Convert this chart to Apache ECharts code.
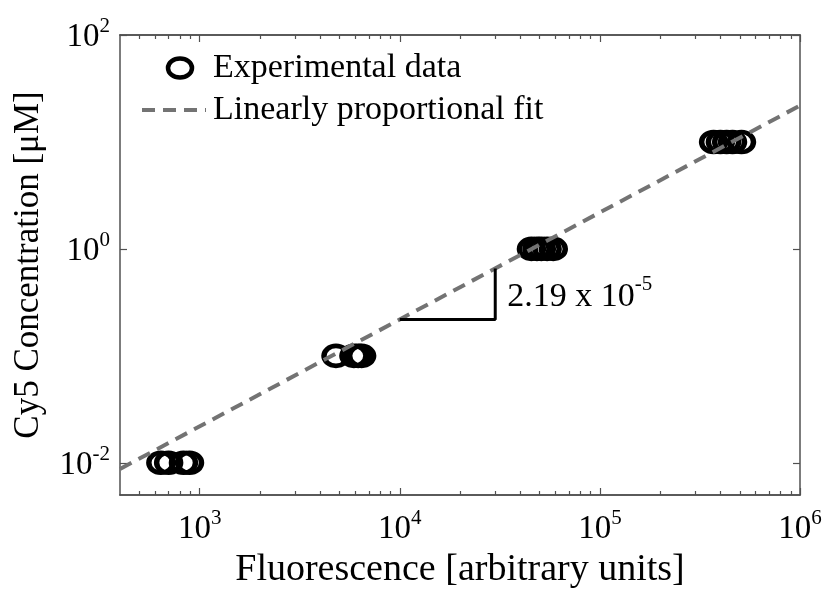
<!DOCTYPE html>
<html><head><meta charset="utf-8">
<script src="https://cdn.jsdelivr.net/npm/echarts@6/dist/echarts.min.js"></script>
<style>html,body{margin:0;padding:0;background:#fff}#c{width:825px;height:589px}</style>
</head><body><div id="c"></div>
<script>
// Experimental data (x: fluorescence, y: concentration µM)
const expX = [640, 700, 830, 890, 4800, 5900, 6200, 6450, 45500, 48500, 51000, 54500, 58500, 370000, 400000, 430000, 460000, 510000];
const expY = [0.01, 0.01, 0.01, 0.01, 0.1, 0.1, 0.1, 0.1, 1, 1, 1, 1, 1, 10, 10, 10, 10, 10];
// Linearly proportional fit (end points)
const fitX = [400, 1000000];
const fitY = [0.00876, 21.9];
// Slope triangle
const triX = [10000, 30000, 30000];
const triY = [0.219, 0.219, 0.657];
const slopeLabelAt = [30000, 0.38];
// Ticks
const xMajorTicks = [1000, 10000, 100000, 1000000];
const xMinorTicks = [500, 600, 700, 800, 900, 2000, 3000, 4000, 5000, 6000, 7000, 8000, 9000,
  20000, 30000, 40000, 50000, 60000, 70000, 80000, 90000, 200000, 300000, 400000, 500000, 600000, 700000, 800000, 900000];
const yMajorTicks = [0.01, 1, 100];
const xRange = [400, 1000000];
const yRange = [0.005, 100];

const FONT = 'Liberation Serif';
const AX = '#505050';
const rich = {
  b: {fontSize: 33, fontFamily: FONT, color: '#000', lineHeight: 38, verticalAlign: 'bottom'},
  s: {fontSize: 21, fontFamily: FONT, color: '#000', lineHeight: 22, verticalAlign: 'top'}
};
const powFmt = v => '{b|10}{s|' + Math.round(Math.log10(v)) + '}';

function xAx(pos, ticks, len, labels) {
  return {
    type: 'log', logBase: 10, min: xRange[0], max: xRange[1], position: pos,
    axisLine: {show: true, lineStyle: {color: AX, width: 1.5}},
    axisTick: {show: true, inside: true, length: len, customValues: ticks, lineStyle: {color: AX, width: 1.2}},
    splitLine: {show: false}, minorTick: {show: false},
    axisLabel: labels ? {show: true, customValues: xMajorTicks, formatter: powFmt, rich: rich, margin: 13} : {show: false},
    name: labels ? 'Fluorescence [arbitrary units]' : '',
    nameLocation: 'middle', nameGap: 56,
    nameTextStyle: {fontFamily: FONT, fontSize: 38, color: '#000', verticalAlign: 'top'}
  };
}
function yAx(pos, labels) {
  return {
    type: 'log', logBase: 10, min: yRange[0], max: yRange[1], position: pos,
    axisLine: {show: true, lineStyle: {color: AX, width: 1.5}},
    axisTick: {show: true, inside: true, length: 7, customValues: yMajorTicks, lineStyle: {color: AX, width: 1.2}},
    splitLine: {show: false}, minorTick: {show: false},
    axisLabel: labels ? {show: true, customValues: yMajorTicks, formatter: powFmt, rich: rich, margin: 10} : {show: false},
    name: labels ? 'Cy5 Concentration [μM]' : '',
    nameLocation: 'middle', nameGap: 74, nameRotate: 90,
    nameTextStyle: {fontFamily: FONT, fontSize: 35, color: '#000'}
  };
}

const chart = echarts.init(document.getElementById('c'), null, {renderer: 'canvas'});
chart.setOption({
  animation: false,
  backgroundColor: '#fff',
  grid: {left: 120, right: 25, top: 35, bottom: 94, containLabel: false, outerBoundsMode: 'none'},
  xAxis: [xAx('bottom', xMajorTicks, 7, true), xAx('top', xMajorTicks, 7, false),
          xAx('bottom', xMinorTicks, 4, false), xAx('top', xMinorTicks, 4, false)],
  yAxis: [yAx('left', true), yAx('right', false)],
  series: [
    {
      type: 'scatter', name: 'Experimental data', z: 2,
      data: expX.map((x, i) => [x, expY[i]]),
      symbol: 'circle', symbolSize: [24, 20],
      itemStyle: {color: 'rgba(255,255,255,0)', borderColor: '#000', borderWidth: 5, opacity: 1}
    },
    {
      type: 'line', name: 'Linearly proportional fit', z: 3,
      data: fitX.map((x, i) => [x, fitY[i]]),
      showSymbol: false, symbol: 'none',
      lineStyle: {color: '#737373', width: 4, type: [13, 8]}
    },
    {
      type: 'line', name: 'slope', z: 4,
      data: triX.map((x, i) => [x, triY[i]]),
      showSymbol: false, symbol: 'none',
      lineStyle: {color: '#000', width: 3},
      markPoint: {
        symbol: 'circle', symbolSize: 0,
        data: [{coord: slopeLabelAt}],
        label: {
          show: true, position: 'right', distance: 12,
          formatter: '{t|2.19 x 10}{s|-5}',
          rich: {
            t: {fontSize: 34, fontFamily: FONT, color: '#000', lineHeight: 40, verticalAlign: 'bottom'},
            s: {fontSize: 21, fontFamily: FONT, color: '#000', lineHeight: 22, verticalAlign: 'top'}
          }
        }
      }
    }
  ],
  graphic: [
    {type: 'ellipse', shape: {cx: 180, cy: 68, rx: 12, ry: 9.5}, style: {fill: 'none', stroke: '#000', lineWidth: 4.5}},
    {type: 'line', shape: {x1: 142, y1: 110, x2: 206, y2: 110}, style: {stroke: '#737373', lineWidth: 4, lineDash: [13, 8]}},
    {type: 'text', x: 213, y: 68, style: {text: 'Experimental data', font: '34px "Liberation Serif"', fill: '#000', verticalAlign: 'middle'}},
    {type: 'text', x: 213, y: 110, style: {text: 'Linearly proportional fit', font: '34px "Liberation Serif"', fill: '#000', verticalAlign: 'middle'}}
  ]
});
</script></body></html>
